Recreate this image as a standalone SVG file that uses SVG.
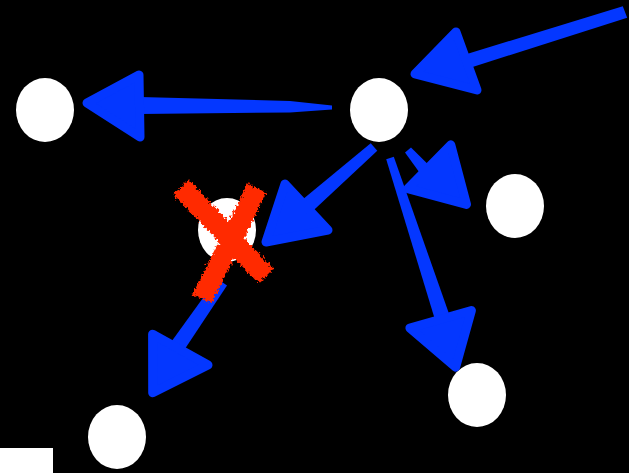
<svg xmlns="http://www.w3.org/2000/svg" width="629" height="473" viewBox="0 0 629 473">
  <style>
    .node { fill: #ffffff; }
    .shaft { fill: #0437ff; }
    .head { fill: #0437ff; stroke: #0437ff; stroke-width: 9; stroke-linejoin: round; }
    .cross { stroke: #ff2a00; stroke-width: 21; fill: none; stroke-linecap: butt; }
  </style>
  <defs>
    <filter id="rough" x="-20%" y="-20%" width="140%" height="140%">
      <feTurbulence type="fractalNoise" baseFrequency="0.35" numOctaves="2" seed="3" result="n"/>
      <feDisplacementMap in="SourceGraphic" in2="n" scale="7" xChannelSelector="R" yChannelSelector="G"/>
    </filter>
  </defs>
  <rect x="0" y="0" width="629" height="473" fill="#000000"/>
  <rect x="0" y="448" width="53" height="25" fill="#ffffff"/>

  <g id="node-a"><ellipse class="node" cx="45" cy="110" rx="29" ry="32"/></g>
  <g id="node-b"><ellipse class="node" cx="379" cy="110" rx="29" ry="32"/></g>
  <g id="node-c"><ellipse class="node" cx="515" cy="206" rx="29" ry="32"/></g>
  <g id="node-d"><ellipse class="node" cx="227" cy="230" rx="29" ry="32"/></g>
  <g id="node-e"><ellipse class="node" cx="117" cy="437" rx="29" ry="32"/></g>
  <g id="node-f"><ellipse class="node" cx="477" cy="395" rx="29" ry="32"/></g>

  <g id="connectors">
    <g id="edge-in-b">
      <polygon class="shaft" points="622.8,6.2 627.2,17.8 467.1,68.7 462.9,55.3"/>
      <polygon class="head" points="415,74 456,32 477,90"/>
    </g>
    <g id="edge-b-a">
      <polygon class="shaft" points="140,97 290,101 332,105.5 332,109.5 290,112.5 140,114"/>
      <polygon class="head" points="87,103 139,75 140,137"/>
    </g>
    <g id="edge-b-d">
      <polygon class="shaft" points="377.3,150.8 370.7,143.2 294.7,206 305.3,218"/>
      <polygon class="head" points="266,242 285,184 328,230"/>
    </g>
    <g id="edge-b-c">
      <polygon class="shaft" points="405,152.6 411,147.4 437.3,173.5 426.7,182.6"/>
      <polygon class="head" points="466.5,204.4 450.8,144.8 407.8,188.6"/>
    </g>
    <g id="edge-b-f">
      <polygon class="shaft" points="386.2,159.2 393.8,156.8 455.6,332.5 440.4,337.5"/>
      <polygon class="head" points="455.6,367.2 409.9,328 471.4,310.5"/>
    </g>
    <g id="edge-d-e">
      <polygon class="shaft" points="227,285.4 217,278.6 161.4,355.4 174.6,364.6"/>
      <polygon class="head" points="152.7,392.8 152.6,334.3 208,365"/>
    </g>
  </g>

  <g id="cross" filter="url(#rough)">
    <line class="cross" x1="181" y1="187" x2="266" y2="276"/>
    <line class="cross" x1="257" y1="188" x2="202" y2="299"/>
  </g>
</svg>
